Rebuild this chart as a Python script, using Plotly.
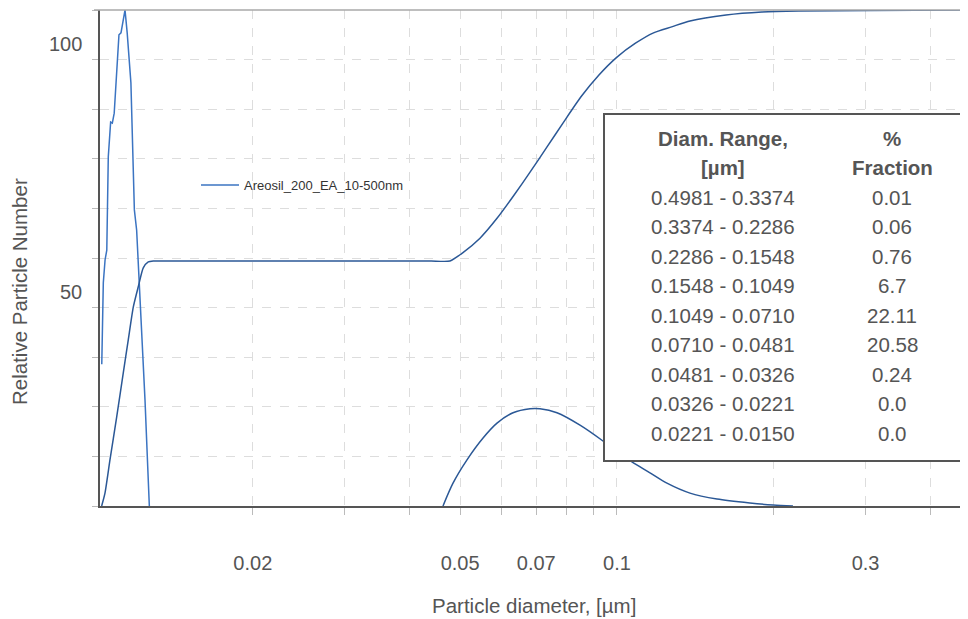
import math
import plotly.graph_objects as go

# ---------------- data ----------------
series_name = "Areosil_200_EA_10-500nm"

# narrow spike near the lower size limit
spike_x = [0.01026, 0.01033, 0.01041, 0.01049, 0.01056, 0.01067, 0.01075, 0.01084,
           0.01107, 0.01117, 0.01137, 0.01148, 0.01167, 0.01176, 0.01185, 0.01197,
           0.01211, 0.01224, 0.01242, 0.01257, 0.01266]
spike_y = [28.6, 45.0, 49.6, 51.6, 70.4, 77.4, 77.2, 79.2,
           95.0, 95.4, 100.0, 95.4, 85.3, 71.8, 59.7, 55.6,
           45.0, 34.9, 21.4, 7.9, 0.0]

# cumulative curve
cum_x = [0.010255, 0.010406, 0.010638, 0.010958, 0.011281, 0.011535, 0.011793,
         0.012056, 0.012325, 0.012600, 0.012882, 0.0140, 0.0160, 0.0190, 0.0220,
         0.0260, 0.0300, 0.0350, 0.0400, 0.0440, 0.04780, 0.05063, 0.05459,
         0.05885, 0.06318, 0.06810, 0.07341, 0.07877, 0.08530, 0.09235, 0.1,
         0.10852, 0.11754, 0.12733, 0.13809, 0.16191, 0.18983, 0.22317,
         0.30728, 0.4981]
cum_y = [0.0, 2.6, 9.3, 17.9, 26.8, 33.5, 40.1,
         44.2, 48.0, 49.2, 49.4, 49.4, 49.4, 49.4, 49.4,
         49.4, 49.4, 49.4, 49.4, 49.4, 49.4, 51.1, 54.0,
         58.0, 62.4, 67.3, 72.4, 77.2, 82.5, 86.9, 90.5,
         93.3, 95.4, 96.6, 97.8, 99.0, 99.6, 99.8,
         99.9, 100.0]

# distribution curve
dist_x = [0.046355, 0.04845, 0.05154, 0.05533, 0.05885, 0.06318, 0.06810, 0.07115,
          0.07670, 0.08493, 0.09400, 0.1, 0.10685, 0.11571, 0.12472, 0.13809,
          0.15560, 0.18000, 0.19932, 0.21768]
dist_y = [0.0, 4.6, 9.3, 13.7, 16.7, 18.8, 19.6, 19.6,
          18.8, 16.3, 13.1, 10.9, 8.9, 6.7, 4.6, 2.6,
          1.4, 0.6, 0.2, 0.0]

# axis ticks
x_tick_vals = [0.02, 0.03, 0.04, 0.05, 0.06, 0.07, 0.08, 0.09, 0.1, 0.2, 0.3, 0.4]
x_tick_text = ["0.02", "", "", "0.05", "", "0.07", "", "", "0.1", "", "0.3", ""]
y_grid_vals = [0, 10, 20, 30, 40, 50, 60, 70, 80, 90, 100]
y_label_vals = [0, 50, 100]

# table
table_header_1 = ["Diam. Range,", "[µm]"]
table_header_2 = ["%", "Fraction"]
diam_ranges = ["0.4981 - 0.3374", "0.3374 - 0.2286", "0.2286 - 0.1548",
               "0.1548 - 0.1049", "0.1049 - 0.0710", "0.0710 - 0.0481",
               "0.0481 - 0.0326", "0.0326 - 0.0221", "0.0221 - 0.0150"]
fractions = ["0.01", "0.06", "0.76", "6.7", "22.11", "20.58", "0.24", "0.0", "0.0"]

# ---------------- figure ----------------
OFF = 8  # page body margin
W, H = 968 - OFF, 619 - OFF
ML, MR, MT, MB = 100 - OFF, 0, 10 - OFF, 619 - 506
PW, PH = W - ML - MR, H - MT - MB

def px_x(px):
    # screenshot x pixel -> paper coordinate
    return (px - OFF - ML) / PW

def px_y(py):
    # screenshot y pixel -> paper coordinate
    return (506 - py) / PH

FONT = "Arial, Liberation Sans, sans-serif"
TXT = "#555555"
LINE_A = "#3b74c2"
LINE_B = "#2b5896"

fig = go.Figure()
fig.add_trace(go.Scatter(x=spike_x, y=spike_y, mode="lines", name=series_name,
                         line=dict(color=LINE_A, width=1.5), showlegend=True))
fig.add_trace(go.Scatter(x=cum_x, y=cum_y, mode="lines", name=series_name,
                         line=dict(color=LINE_B, width=1.5, shape="spline", smoothing=0.6),
                         showlegend=False))
fig.add_trace(go.Scatter(x=dist_x, y=dist_y, mode="lines", name=series_name,
                         line=dict(color=LINE_B, width=1.5, shape="spline", smoothing=0.8),
                         showlegend=False))

fig.update_layout(
    width=W, height=H,
    margin=dict(l=ML, r=MR, t=MT, b=MB, pad=0),
    paper_bgcolor="white", plot_bgcolor="white",
    font=dict(family=FONT, color=TXT),
    legend=dict(x=px_x(196), y=px_y(185), xanchor="left", yanchor="middle",
                bgcolor="rgba(0,0,0,0)", borderwidth=0, itemwidth=38,
                font=dict(size=13, color="#333333", family=FONT)),
    xaxis=dict(type="log", range=[math.log10(0.01018), math.log10(0.4718)],
               tickvals=x_tick_vals, ticktext=x_tick_text,
               showline=True, linecolor="#555555", linewidth=2,
               ticks="outside", ticklen=7, tickcolor="#bbbbbb", tickwidth=1,
               showgrid=True, gridcolor="#dddddd", griddash="dash", gridwidth=1,
               zeroline=False, tickfont=dict(size=20, color=TXT, family=FONT),
               ticklabelstandoff=31),
    yaxis=dict(range=[0, 100], tickvals=y_grid_vals, showticklabels=False,
               showline=True, linecolor="#555555", linewidth=2,
               ticks="outside", ticklen=6, tickcolor="#bbbbbb", tickwidth=1,
               showgrid=True, gridcolor="#dddddd", griddash="dash", gridwidth=1,
               zeroline=False),
)

shapes = []
# top border line
shapes.append(dict(type="line", xref="paper", yref="paper", x0=px_x(94), x1=1, y0=1, y1=1,
                   line=dict(color="#a8a8a8", width=1.5), layer="above"))
# table box
shapes.append(dict(type="rect", xref="paper", yref="paper",
                   x0=px_x(604), x1=px_x(990), y0=px_y(461), y1=px_y(114),
                   fillcolor="white", line=dict(color="#555555", width=2), layer="above"))
fig.update_layout(shapes=shapes)

ann = []
# y tick labels (shifted below their gridlines as in the reference)
label_shift = -6.8
for v in y_label_vals:
    ann.append(dict(xref="paper", yref="y", x=px_x(84), y=v + label_shift, text=str(v),
                    showarrow=False, xanchor="right", yanchor="middle",
                    font=dict(size=20, color=TXT, family=FONT)))
# axis titles
ann.append(dict(xref="paper", yref="paper", x=px_x(534), y=px_y(605), text="Particle diameter, [µm]",
                showarrow=False, xanchor="center", yanchor="middle",
                font=dict(size=20.5, color=TXT, family=FONT)))
ann.append(dict(xref="paper", yref="paper", x=px_x(19), y=px_y(292), text="Relative Particle Number",
                showarrow=False, xanchor="center", yanchor="middle", textangle=-90,
                font=dict(size=20.5, color=TXT, family=FONT)))
# table text
c1, c2 = px_x(723), px_x(892)
for i, (h1, h2) in enumerate(zip(table_header_1, table_header_2)):
    py = 138 + i * 29.5
    ann.append(dict(xref="paper", yref="paper", x=c1, y=px_y(py), text="<b>%s</b>" % h1,
                    showarrow=False, xanchor="center", yanchor="middle",
                    font=dict(size=20.5, color=TXT, family=FONT)))
    ann.append(dict(xref="paper", yref="paper", x=c2, y=px_y(py), text="<b>%s</b>" % h2,
                    showarrow=False, xanchor="center", yanchor="middle",
                    font=dict(size=20.5, color=TXT, family=FONT)))
for i, (r, f) in enumerate(zip(diam_ranges, fractions)):
    py = 197 + i * 29.5
    ann.append(dict(xref="paper", yref="paper", x=c1, y=px_y(py), text=r,
                    showarrow=False, xanchor="center", yanchor="middle",
                    font=dict(size=20.5, color=TXT, family=FONT)))
    ann.append(dict(xref="paper", yref="paper", x=c2, y=px_y(py), text=f,
                    showarrow=False, xanchor="center", yanchor="middle",
                    font=dict(size=20.5, color=TXT, family=FONT)))
fig.update_layout(annotations=ann)

fig.write_html("out.html")
